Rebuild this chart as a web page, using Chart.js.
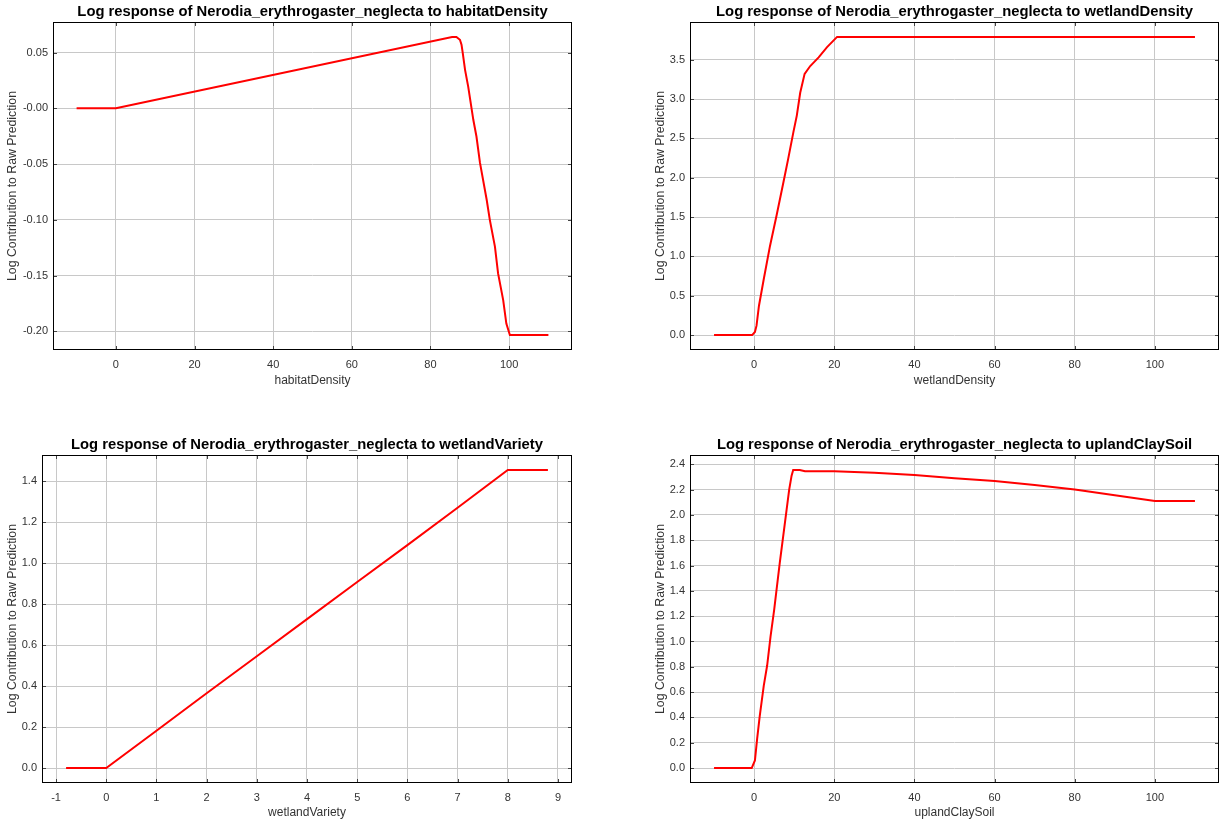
<!DOCTYPE html>
<html><head><meta charset="utf-8">
<script src="https://cdn.jsdelivr.net/npm/chart.js@4.4.1/dist/chart.umd.min.js"></script>
<style>
html,body{margin:0;padding:0;background:#fff;width:1225px;height:824px;overflow:hidden;}
canvas{position:absolute;display:block;}
</style></head><body>
<canvas id="c1" width="612" height="412" style="left:0px;top:0px"></canvas>
<canvas id="c2" width="585" height="412" style="left:640px;top:0px"></canvas>
<canvas id="c3" width="612" height="391" style="left:0px;top:433px"></canvas>
<canvas id="c4" width="585" height="391" style="left:640px;top:433px"></canvas>
<script>
// ---------- data ----------
const species = "Nerodia_erythrogaster_neglecta";
const variables = ["habitatDensity", "wetlandDensity", "wetlandVariety", "uplandClaySoil"];
const yAxisTitle = "Log Contribution to Raw Prediction";

const habitatX = [-10, 0, 85.5, 86.6, 87.5, 87.9, 88.2, 88.8, 89.6, 90.9, 91.7, 92.6, 94.3, 95.1, 96.4, 97.2, 98.5, 99.3, 100.2, 110];
const habitatY = [0, 0, 0.064, 0.064, 0.0614, 0.057, 0.05, 0.0345, 0.0195, -0.0103, -0.0253, -0.049, -0.082, -0.100, -0.124, -0.148, -0.172, -0.193, -0.2033, -0.2033];

const wetDensX = [-10, -0.5, 0.2, 0.6, 1.2, 2.4, 3.95, 5.6, 7.3, 8.5, 9.8, 10.65, 11.5, 12.6, 14, 16.1, 18.2, 20.7, 110];
const wetDensY = [0, 0, 0.04, 0.12, 0.37, 0.71, 1.13, 1.52, 1.94, 2.24, 2.58, 2.79, 3.08, 3.32, 3.42, 3.53, 3.66, 3.79, 3.79];

const wetVarX = [-0.8, 0, 1, 2, 3, 4, 5, 6, 7, 8, 8.8];
const wetVarY = [0, 0, 0.182, 0.365, 0.546, 0.727, 0.908, 1.088, 1.27, 1.455, 1.455];

const claySoilX = [-10, -0.6, 0.2, 0.75, 1.4, 2.4, 3.25, 4.1, 5, 5.6, 6.4, 7.25, 8.1, 8.75, 9.35, 9.75, 11.4, 12.7, 20, 30, 40, 50, 60, 70, 80, 90, 100, 110];
const claySoilY = [0, 0, 0.06, 0.23, 0.41, 0.65, 0.81, 1.04, 1.25, 1.41, 1.62, 1.83, 2.04, 2.20, 2.31, 2.355, 2.355, 2.345, 2.345, 2.333, 2.315, 2.29, 2.268, 2.235, 2.20, 2.155, 2.11, 2.11];

const xTicks100 = [0, 20, 40, 60, 80, 100];
const xTicks100Labels = ["0", "20", "40", "60", "80", "100"];
const xTicksVar = [-1, 0, 1, 2, 3, 4, 5, 6, 7, 8, 9];
const xTicksVarLabels = ["-1", "0", "1", "2", "3", "4", "5", "6", "7", "8", "9"];

const yTicks1 = [-0.20, -0.15, -0.10, -0.05, 0.00, 0.05];
const yLabels1 = ["-0.20", "-0.15", "-0.10", "-0.05", "-0.00", "0.05"];
const yTicks2 = [0, 0.5, 1.0, 1.5, 2.0, 2.5, 3.0, 3.5];
const yLabels2 = ["0.0", "0.5", "1.0", "1.5", "2.0", "2.5", "3.0", "3.5"];
const yTicks3 = [0, 0.2, 0.4, 0.6, 0.8, 1.0, 1.2, 1.4];
const yLabels3 = ["0.0", "0.2", "0.4", "0.6", "0.8", "1.0", "1.2", "1.4"];
const yTicks4 = [0, 0.2, 0.4, 0.6, 0.8, 1.0, 1.2, 1.4, 1.6, 1.8, 2.0, 2.2, 2.4];
const yLabels4 = ["0.0", "0.2", "0.4", "0.6", "0.8", "1.0", "1.2", "1.4", "1.6", "1.8", "2.0", "2.2", "2.4"];

// ---------- layout (canvas origin + plot area in page pixels) ----------
const layouts = [
  {cx:0,   cy:0,   w:612, h:412, L:53,  R:572,  T:22,  B:350, yTitleX:13,  xTitleY:381},
  {cx:640, cy:0,   w:585, h:412, L:690, R:1219, T:22,  B:350, yTitleX:661, xTitleY:381},
  {cx:0,   cy:433, w:612, h:391, L:42,  R:572,  T:455, B:783, yTitleX:13,  xTitleY:813},
  {cx:640, cy:433, w:585, h:391, L:690, R:1219, T:455, B:783, yTitleX:661, xTitleY:813}
];

const FONT = "'Liberation Sans', Arial, 'DejaVu Sans', sans-serif";
const X_AXIS_H = 40;
const Y_TITLE_SIZE = 12.3;

const framePlugin = {
  id: 'frame',
  afterDatasetsDraw(chart) {
    const {ctx, chartArea: {left, right, top, bottom}, scales: {x, y}} = chart;
    ctx.save();
    ctx.lineWidth = 1;
    ctx.strokeStyle = '#444';
    ctx.beginPath();
    x.ticks.forEach(t => {
      const p = Math.round(x.getPixelForValue(t.value)) + 0.5;
      ctx.moveTo(p, bottom); ctx.lineTo(p, bottom - 4);
      ctx.moveTo(p, top); ctx.lineTo(p, top + 4);
    });
    y.ticks.forEach(t => {
      const p = Math.round(y.getPixelForValue(t.value)) + 0.5;
      ctx.moveTo(left, p); ctx.lineTo(left + 4, p);
      ctx.moveTo(right, p); ctx.lineTo(right - 4, p);
    });
    ctx.stroke();
    ctx.strokeStyle = '#000';
    ctx.strokeRect(Math.round(left) + 0.5, Math.round(top) + 0.5, Math.round(right - left) - 1, Math.round(bottom - top) - 1);
    ctx.restore();
  }
};

function extent(arr) {
  const mn = Math.min(...arr), mx = Math.max(...arr);
  const m = (mx - mn) * 0.05;
  return [mn - m, mx + m];
}

function makeChart(id, lay, varName, xs, ys, xTicks, xLabels, yTicks, yLabels) {
  const [xmin, xmax] = extent(xs);
  const [ymin, ymax] = extent(ys);
  const yW = lay.L - lay.cx;
  const padRight = lay.w - (lay.R - lay.cx);
  const padBottom = lay.h - (lay.B - lay.cy) - X_AXIS_H;
  const yTitlePad = lay.yTitleX - lay.cx - Y_TITLE_SIZE * 0.6;
  const xTitlePad = (lay.B + X_AXIS_H) - 7.2 - lay.xTitleY;
  return new Chart(document.getElementById(id), {
    type: 'scatter',
    data: {
      datasets: [{
        data: xs.map((x, i) => ({x: x, y: ys[i]})),
        showLine: true,
        borderColor: '#ff0000',
        backgroundColor: '#ff0000',
        borderWidth: 2,
        pointRadius: 0,
        tension: 0
      }]
    },
    options: {
      responsive: false,
      animation: false,
      events: [],
      layout: {padding: {left: 0, top: 0, right: padRight, bottom: padBottom}},
      plugins: {
        legend: {display: false},
        tooltip: {enabled: false},
        title: {
          display: true,
          fullSize: false,
          text: 'Log response of ' + species + ' to ' + varName,
          color: '#000',
          font: {family: FONT, size: 14.8, weight: 'bold'},
          padding: {top: 3, bottom: 1.24}
        }
      },
      scales: {
        x: {
          type: 'linear',
          min: xmin, max: xmax,
          afterBuildTicks: s => { s.ticks = xTicks.map(v => ({value: v})); },
          afterFit: s => { s.height = X_AXIS_H; },
          grid: {color: '#c8c8c8', drawTicks: false},
          border: {display: false},
          ticks: {
            padding: 8,
            color: '#333',
            font: {family: FONT, size: 11},
            maxRotation: 0,
            callback: (v, i) => xLabels[i]
          },
          title: {
            display: true, text: varName, color: '#333',
            font: {family: FONT, size: 12},
            padding: {top: 0, bottom: xTitlePad}
          }
        },
        y: {
          type: 'linear',
          min: ymin, max: ymax,
          afterBuildTicks: s => { s.ticks = yTicks.map(v => ({value: v})); },
          afterFit: s => { s.width = yW; },
          grid: {color: '#c8c8c8', drawTicks: false},
          border: {display: false},
          ticks: {
            padding: 5,
            color: '#333',
            font: {family: FONT, size: 11},
            callback: (v, i) => yLabels[i]
          },
          title: {
            display: true, text: yAxisTitle, color: '#333',
            font: {family: FONT, size: Y_TITLE_SIZE},
            padding: {top: yTitlePad, bottom: 0}
          }
        }
      }
    },
    plugins: [framePlugin]
  });
}

makeChart('c1', layouts[0], variables[0], habitatX, habitatY, xTicks100, xTicks100Labels, yTicks1, yLabels1);
makeChart('c2', layouts[1], variables[1], wetDensX, wetDensY, xTicks100, xTicks100Labels, yTicks2, yLabels2);
makeChart('c3', layouts[2], variables[2], wetVarX, wetVarY, xTicksVar, xTicksVarLabels, yTicks3, yLabels3);
makeChart('c4', layouts[3], variables[3], claySoilX, claySoilY, xTicks100, xTicks100Labels, yTicks4, yLabels4);
</script>
</body></html>
